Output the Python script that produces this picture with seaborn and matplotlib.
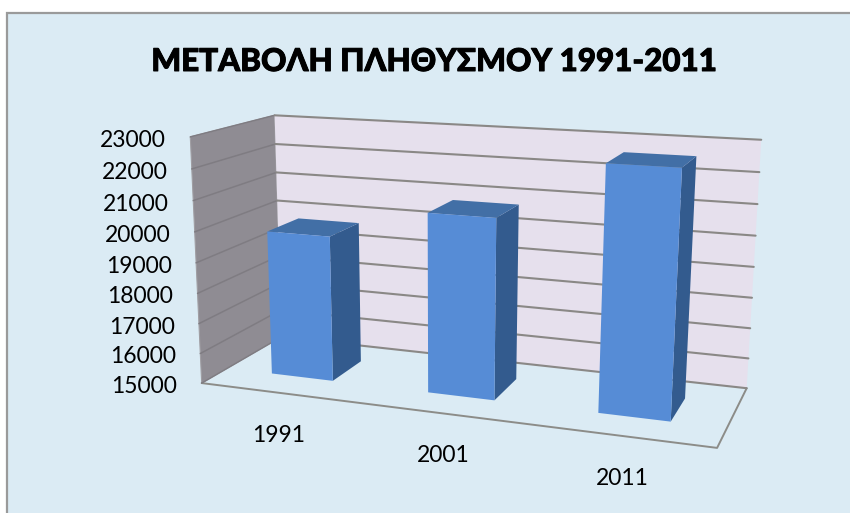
import numpy as np
import matplotlib
matplotlib.use("Agg")
import matplotlib.pyplot as plt
import matplotlib.patheffects as pe
import pandas as pd
import seaborn as sns
from matplotlib.patches import Polygon, Rectangle
from matplotlib.transforms import Transform

title = "ΜΕΤΑΒΟΛΗ ΠΛΗΘΥΣΜΟΥ 1991-2011"
years = ["1991", "2001", "2011"]
population = [19800, 20800, 22650]
z_ticks = [15000, 16000, 17000, 18000, 19000, 20000, 21000, 22000, 23000]

Z_MIN, Z_MAX = z_ticks[0], z_ticks[-1]
X_MIN, X_MAX = -0.5, 2.5
BAR_WIDTH = 0.4
BAR_FRONT, BAR_BACK = 0.3, 0.7

# where the corners of the chart box sit in the picture: (x, depth, z) -> (px, py)
box_corners = [
    ((X_MIN, 0, Z_MIN), (203, 382)),
    ((X_MAX, 0, Z_MIN), (717, 449)),
    ((X_MIN, 1, Z_MIN), (280, 338)),
    ((X_MAX, 1, Z_MIN), (747, 387)),
    ((X_MIN, 0, Z_MAX), (189, 137)),
    ((X_MIN, 1, Z_MAX), (276, 115)),
    ((X_MAX, 1, Z_MAX), (761, 140)),
]


def fit_camera(corners):
    rows, rhs = [], []
    for (x, d, z), (u, v) in corners:
        p = [x, d, (z - Z_MIN) / (Z_MAX - Z_MIN), 1]
        rows.append(p + [0, 0, 0, 0] + [-u * c for c in p[:3]])
        rhs.append(u)
        rows.append([0, 0, 0, 0] + p + [-v * c for c in p[:3]])
        rhs.append(v)
    sol = np.linalg.lstsq(np.array(rows, float), np.array(rhs, float), rcond=None)[0]
    return np.append(sol, 1).reshape(3, 4)


camera = fit_camera(box_corners)


def project(x, d, z):
    x, d, z = np.broadcast_arrays(x, d, z)
    pts = np.stack([x, d, (z - Z_MIN) / (Z_MAX - Z_MIN), np.ones_like(x, dtype=float)])
    u, v, w = camera @ pts
    return np.column_stack([u / w, v / w])


class DepthPlane(Transform):
    # maps (category, value) of the bars onto a plane at a given depth
    input_dims = 2
    output_dims = 2
    is_separable = False
    has_inverse = False

    def __init__(self, plane_depth):
        super().__init__()
        self.plane_depth = plane_depth

    def transform_non_affine(self, values):
        values = np.asarray(values, float)
        return project(values[:, 0], self.plane_depth, values[:, 1])


sns.set_theme(style="white")
plt.rcParams["font.family"] = ["Lato", "Open Sans", "DejaVu Sans"]

df = pd.DataFrame({"year": years, "population": population})

fig = plt.figure(figsize=(8.5, 5.13), dpi=100, facecolor="white")
ax = fig.add_axes([0, 0, 1, 1])

sns.barplot(data=df, x="year", y="population", color="#568CD6", saturation=1,
            width=BAR_WIDTH, linewidth=0, ax=ax, zorder=5)

ax.set_xlim(0, 850)
ax.set_ylim(513, 0)
ax.axis("off")

# panel
ax.add_patch(Rectangle((7.5, 12.5), 860, 520, facecolor="#DBEBF4", edgecolor="#9A9A9A",
                       linewidth=1.6, zorder=0))

# walls
left_wall = project([X_MIN, X_MIN, X_MIN, X_MIN], [0, 1, 1, 0], [Z_MIN, Z_MIN, Z_MAX, Z_MAX])
back_wall = project([X_MIN, X_MAX, X_MAX, X_MIN], [1, 1, 1, 1], [Z_MIN, Z_MIN, Z_MAX, Z_MAX])
ax.add_patch(Polygon(left_wall, facecolor="#8F8C93", edgecolor="#A09EA3", linewidth=0.8, zorder=1))
ax.add_patch(Polygon(back_wall, facecolor="#E6E0ED", edgecolor="none", zorder=1))

# floor outline
floor_line = project([X_MIN, X_MAX, X_MAX], [0, 0, 1], [Z_MIN, Z_MIN, Z_MIN])
ax.plot(floor_line[:, 0], floor_line[:, 1], color="#8C8C88", lw=1.4, zorder=2)

# gridlines and value labels
for tick in z_ticks:
    grid = project([X_MIN, X_MIN, X_MAX], [0, 1, 1], [tick, tick, tick])
    ax.plot(grid[:2, 0], grid[:2, 1], color="#7F7C82", lw=1.1, zorder=2)
    ax.plot(grid[1:, 0], grid[1:, 1], color="#8A8886", lw=1.5, zorder=2)
    ax.annotate(str(tick), xy=grid[0], xycoords="data", xytext=(-17.5, -2.5),
                textcoords="offset points", ha="right", va="center",
                fontsize=16.5, color="black", zorder=6)

# category labels
for i, year in enumerate(years):
    anchor = project(i, 0, Z_MIN)[0]
    ax.annotate(year, xy=anchor, xycoords="data", xytext=(0.5, -30.5),
                textcoords="offset points", ha="center", va="center",
                fontsize=16.5, color="black", zorder=6)

# turn the flat seaborn bars into boxes
front_plane = DepthPlane(BAR_FRONT) + ax.transData
for bar, value in zip(ax.patches[:len(years)], population):
    left, right = bar.get_x(), bar.get_x() + bar.get_width()
    top = project([left, right, right, left],
                  [BAR_FRONT, BAR_FRONT, BAR_BACK, BAR_BACK], [value] * 4)
    side = project([right, right, right, right],
                   [BAR_FRONT, BAR_BACK, BAR_BACK, BAR_FRONT],
                   [Z_MIN, Z_MIN, value, value])
    ax.add_patch(Polygon(side, facecolor="#335B8E", edgecolor="none", zorder=4))
    ax.add_patch(Polygon(top, facecolor="#426FA6", edgecolor="none", zorder=4))
    bar.set_y(Z_MIN)
    bar.set_height(value - Z_MIN)
    bar.set_transform(front_plane)
    bar.set_clip_on(False)

title_text = ax.text(434.5, 62, title, ha="center", va="center", fontsize=22.6, fontweight=900,
                     color="black", zorder=6)
title_text.set_path_effects([pe.withStroke(linewidth=0.7, foreground="black")])

fig.savefig("out.png", dpi=100)
